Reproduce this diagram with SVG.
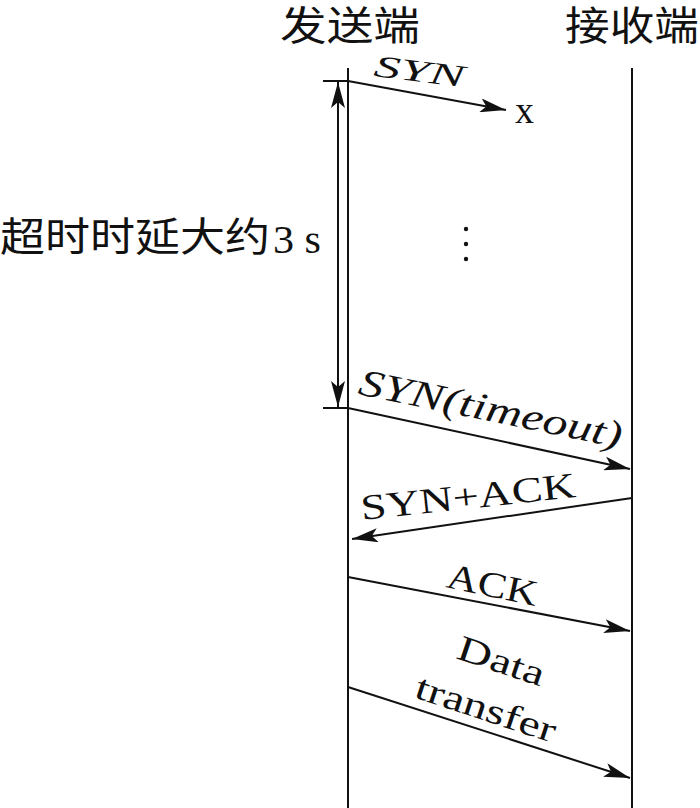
<svg xmlns="http://www.w3.org/2000/svg" width="700" height="808" viewBox="0 0 700 808">
<style>
.line{stroke:#111;stroke-width:2;fill:none}
.arr{stroke:#111;stroke-width:2;fill:none;marker-end:url(#ah)}
.cjk{font-family:"Noto Sans CJK SC","Liberation Serif",serif;fill:#111}
.lab{font-family:"Liberation Serif",serif;fill:#111}
.it{font-style:italic}
</style>
<defs>
<marker id="ah" markerUnits="userSpaceOnUse" markerWidth="28" markerHeight="14" refX="26" refY="7" orient="auto">
<path d="M0,0 L26,7 L0,14 L6,7 Z" fill="#111"/>
</marker>
<marker id="ahs" markerUnits="userSpaceOnUse" markerWidth="28" markerHeight="14" refX="0" refY="7" orient="auto">
<path d="M26,0 L0,7 L26,14 L20,7 Z" fill="#111"/>
</marker>
</defs>
<g id="sender">
<text class="cjk" x="280" y="40" font-size="40" textLength="140" lengthAdjust="spacingAndGlyphs">发送端</text>
<line class="line" x1="348" y1="68" x2="348" y2="808"/>
</g>
<g id="receiver">
<text class="cjk" x="565" y="40" font-size="40" textLength="134" lengthAdjust="spacingAndGlyphs">接收端</text>
<line class="line" x1="632" y1="68" x2="632" y2="808"/>
</g>
<g id="timeout">
<line class="line" x1="323" y1="81" x2="348" y2="81"/>
<line class="line" x1="323" y1="408" x2="348" y2="408"/>
<line class="line" x1="338" y1="82" x2="338" y2="407" marker-start="url(#ahs)" marker-end="url(#ah)"/>
<text class="cjk" x="0" y="251" font-size="40" textLength="270" lengthAdjust="spacingAndGlyphs">超时时延大约</text>
<text class="lab" x="273" y="253" font-size="40" textLength="48" lengthAdjust="spacingAndGlyphs">3 s</text>
</g>
<g id="dots" fill="#111">
<circle cx="466" cy="229" r="2.2"/>
<circle cx="466" cy="244" r="2.2"/>
<circle cx="466" cy="259" r="2.2"/>
</g>
<g id="connectors">
<line class="arr" x1="348" y1="81" x2="506" y2="110"/>
<line class="arr" x1="348" y1="408" x2="630" y2="469"/>
<line class="arr" x1="632" y1="498" x2="352" y2="539"/>
<line class="arr" x1="348" y1="577" x2="630" y2="631"/>
<line class="arr" x1="348" y1="687" x2="630" y2="778"/>
</g>
<g id="labels">
<text class="lab it" font-size="31" transform="translate(373,76) rotate(7)" textLength="91" lengthAdjust="spacingAndGlyphs">SYN</text>
<text class="lab" font-size="38" x="515" y="123">x</text>
<text class="lab it" font-size="38" transform="translate(357,394) rotate(11.6)" textLength="268" lengthAdjust="spacingAndGlyphs">SYN(timeout)</text>
<text class="lab" font-size="36" transform="translate(362,520) rotate(-6.1)" textLength="216" lengthAdjust="spacingAndGlyphs">SYN+ACK</text>
<text class="lab" font-size="36" transform="translate(445,587) rotate(12)" textLength="92" lengthAdjust="spacingAndGlyphs">ACK</text>
<text class="lab" font-size="36" transform="translate(455,658) rotate(18.5)" textLength="90" lengthAdjust="spacingAndGlyphs">Data</text>
<text class="lab" font-size="36" transform="translate(413,697) rotate(18.3)" textLength="146" lengthAdjust="spacingAndGlyphs">transfer</text>
</g>
</svg>
